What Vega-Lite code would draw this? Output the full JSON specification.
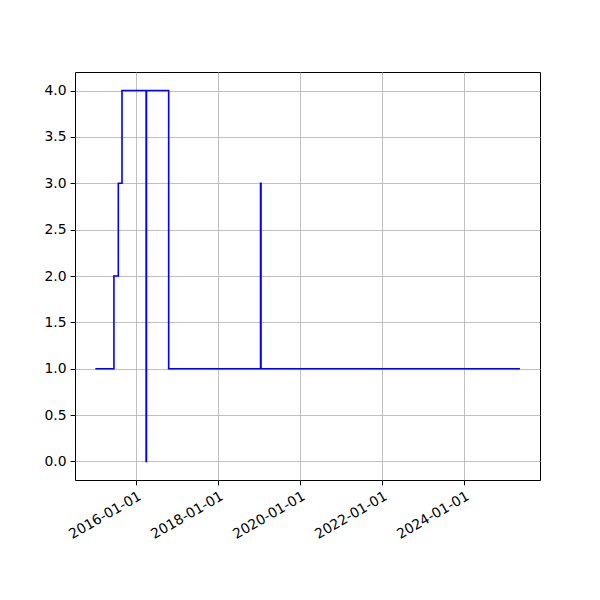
{
  "$schema": "https://vega.github.io/schema/vega-lite/v6.json",
  "autosize": "none",
  "width": 465,
  "height": 408,
  "padding": {"left": 75, "top": 72, "right": 60, "bottom": 120},
  "background": "white",
  "config": {
    "view": {"stroke": "black", "strokeWidth": 1},
    "axis": {
      "labelFont": "DejaVu Sans",
      "labelFontSize": 13.9,
      "labelColor": "black",
      "tickColor": "black",
      "tickSize": 4.9,
      "tickWidth": 1,
      "labelPadding": 4,
      "domain": false,
      "gridColor": "#b0b0b0",
      "gridWidth": 0.8,
      "title": null
    }
  },
  "data": {
    "values": [
      {"date": "2015-01-01", "value": 1},
      {"date": "2015-06-16", "value": 2},
      {"date": "2015-07-25", "value": 3},
      {"date": "2015-08-27", "value": 4},
      {"date": "2016-03-29", "value": 0},
      {"date": "2016-04-01", "value": 4},
      {"date": "2016-10-16", "value": 1},
      {"date": "2019-01-13", "value": 3},
      {"date": "2019-01-17", "value": 1},
      {"date": "2025-05-13", "value": 1}
    ]
  },
  "mark": {"type": "line", "interpolate": "step-after", "color": "blue", "strokeWidth": 1.6, "clip": true},
  "encoding": {
    "x": {
      "field": "date",
      "type": "temporal",
      "scale": {"type": "utc", "domain": [{"year": 2014, "month": 7, "date": 4, "utc": true}, {"year": 2025, "month": 11, "date": 8, "utc": true}]},
      "axis": {
        "values": [
          {"year": 2016, "month": 1, "date": 1, "utc": true},
          {"year": 2018, "month": 1, "date": 1, "utc": true},
          {"year": 2020, "month": 1, "date": 1, "utc": true},
          {"year": 2022, "month": 1, "date": 1, "utc": true},
          {"year": 2024, "month": 1, "date": 1, "utc": true}
        ],
        "labelExpr": "utcFormat(datum.value, '%Y-%m-%d')",
        "labelAngle": -30,
        "labelAlign": "right",
        "labelBaseline": "top",
        "labelDx": -4,
        "labelFlush": false,
        "labelOverlap": false
      }
    },
    "y": {
      "field": "value",
      "type": "quantitative",
      "scale": {"domain": [-0.2, 4.2], "nice": false, "zero": false},
      "axis": {
        "values": [0, 0.5, 1, 1.5, 2, 2.5, 3, 3.5, 4],
        "format": ".1f",
        "labelBaseline": "middle"
      }
    }
  }
}
